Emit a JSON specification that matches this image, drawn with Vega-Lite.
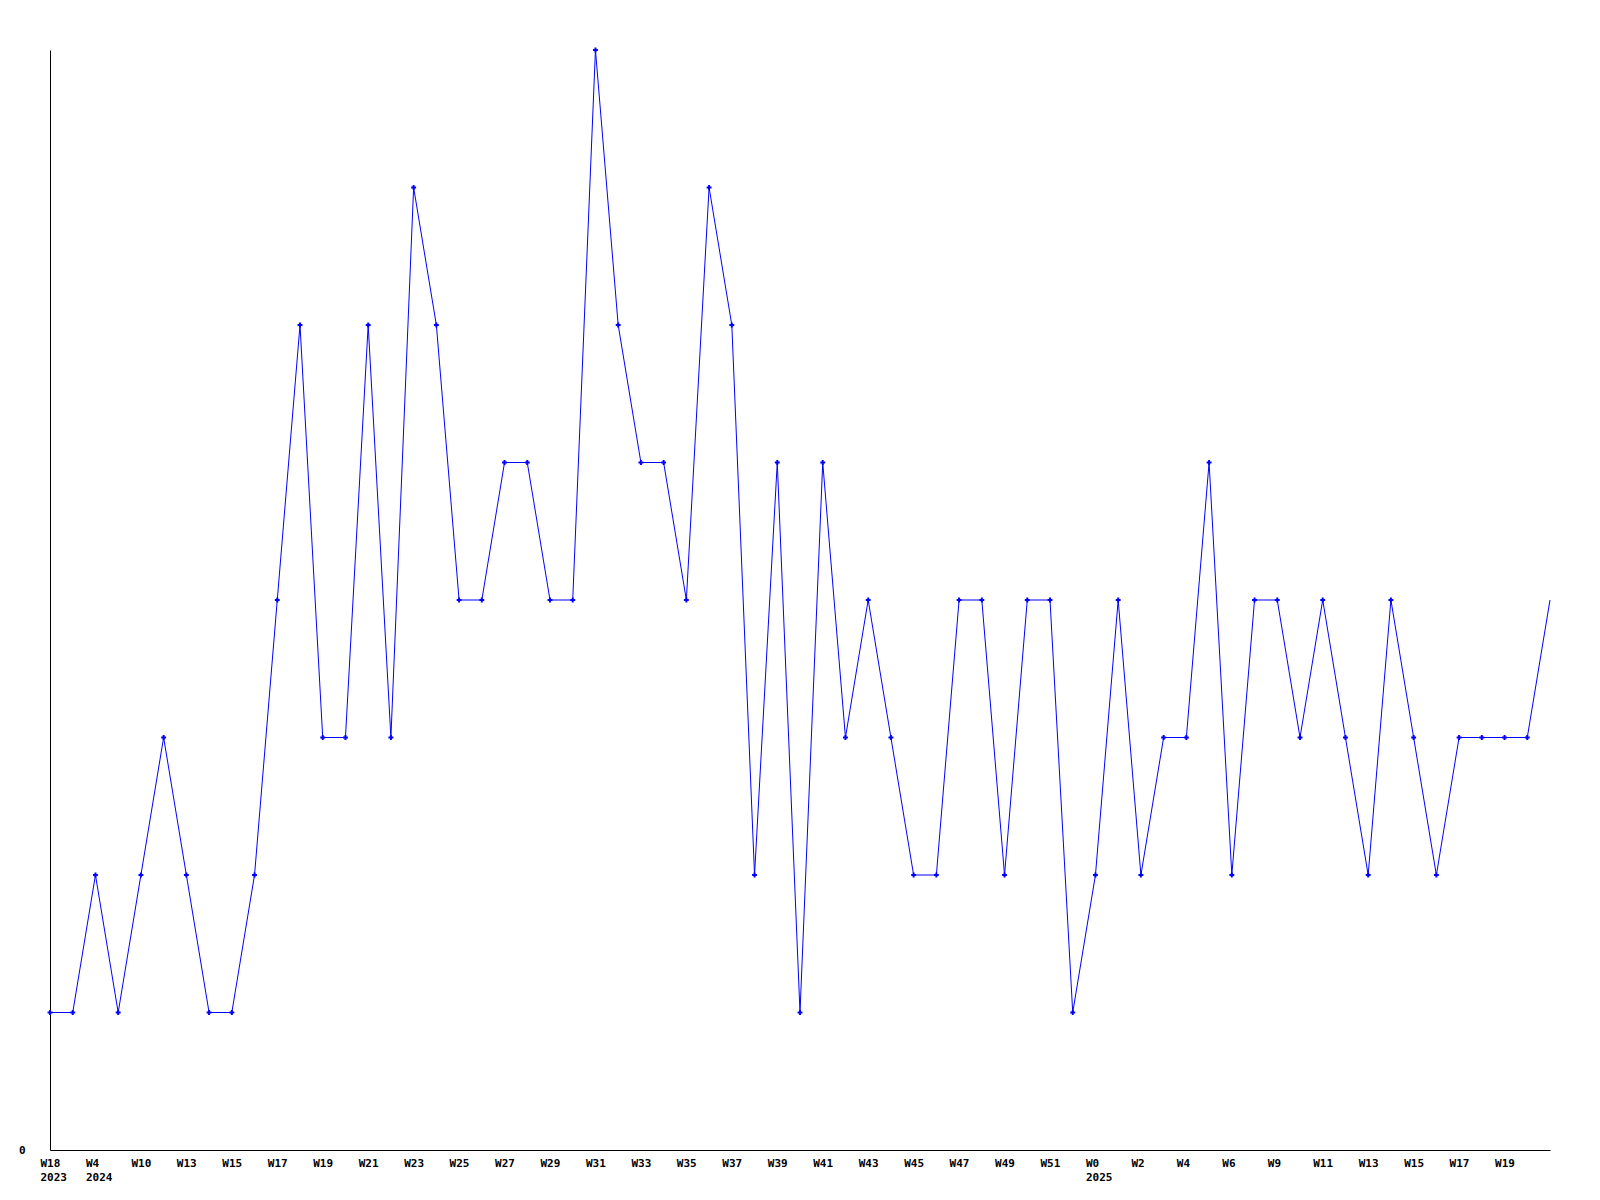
{
  "$schema": "https://vega.github.io/schema/vega-lite/v6.json",
  "width": 1500,
  "height": 1100,
  "autosize": {"type": "none"},
  "padding": {"left": 50, "top": 50, "right": 50, "bottom": 50},
  "background": "white",
  "config": {
    "view": {"stroke": null},
    "axis": {
      "labelFont": "DejaVu Sans Mono",
      "labelFontWeight": "bold",
      "labelFontSize": 11,
      "labelColor": "black",
      "domainColor": "black",
      "domainWidth": 1,
      "grid": false,
      "ticks": false,
      "title": null
    }
  },
  "data": {
    "values": [
      {"i": 0, "v": 1}, {"i": 1, "v": 1}, {"i": 2, "v": 2}, {"i": 3, "v": 1},
      {"i": 4, "v": 2}, {"i": 5, "v": 3}, {"i": 6, "v": 2}, {"i": 7, "v": 1},
      {"i": 8, "v": 1}, {"i": 9, "v": 2}, {"i": 10, "v": 4}, {"i": 11, "v": 6},
      {"i": 12, "v": 3}, {"i": 13, "v": 3}, {"i": 14, "v": 6}, {"i": 15, "v": 3},
      {"i": 16, "v": 7}, {"i": 17, "v": 6}, {"i": 18, "v": 4}, {"i": 19, "v": 4},
      {"i": 20, "v": 5}, {"i": 21, "v": 5}, {"i": 22, "v": 4}, {"i": 23, "v": 4},
      {"i": 24, "v": 8}, {"i": 25, "v": 6}, {"i": 26, "v": 5}, {"i": 27, "v": 5},
      {"i": 28, "v": 4}, {"i": 29, "v": 7}, {"i": 30, "v": 6}, {"i": 31, "v": 2},
      {"i": 32, "v": 5}, {"i": 33, "v": 1}, {"i": 34, "v": 5}, {"i": 35, "v": 3},
      {"i": 36, "v": 4}, {"i": 37, "v": 3}, {"i": 38, "v": 2}, {"i": 39, "v": 2},
      {"i": 40, "v": 4}, {"i": 41, "v": 4}, {"i": 42, "v": 2}, {"i": 43, "v": 4},
      {"i": 44, "v": 4}, {"i": 45, "v": 1}, {"i": 46, "v": 2}, {"i": 47, "v": 4},
      {"i": 48, "v": 2}, {"i": 49, "v": 3}, {"i": 50, "v": 3}, {"i": 51, "v": 5},
      {"i": 52, "v": 2}, {"i": 53, "v": 4}, {"i": 54, "v": 4}, {"i": 55, "v": 3},
      {"i": 56, "v": 4}, {"i": 57, "v": 3}, {"i": 58, "v": 2}, {"i": 59, "v": 4},
      {"i": 60, "v": 3}, {"i": 61, "v": 2}, {"i": 62, "v": 3}, {"i": 63, "v": 3},
      {"i": 64, "v": 3}, {"i": 65, "v": 3}, {"i": 66, "v": 4}
    ]
  },
  "encoding": {
    "x": {
      "field": "i",
      "type": "quantitative",
      "scale": {"domain": [0, 66], "nice": false, "zero": false},
      "axis": {
        "values": [0, 2, 4, 6, 8, 10, 12, 14, 16, 18, 20, 22, 24, 26, 28, 30, 32, 34, 36, 38, 40, 42, 44, 46, 48, 50, 52, 54, 56, 58, 60, 62, 64],
        "labelExpr": "[['W18','2023'],['W4','2024'],'W10','W13','W15','W17','W19','W21','W23','W25','W27','W29','W31','W33','W35','W37','W39','W41','W43','W45','W47','W49','W51',['W0','2025'],'W2','W4','W6','W9','W11','W13','W15','W17','W19'][datum.value/2]",
        "labelAlign": "left",
        "labelBaseline": "top",
        "labelOffset": -10,
        "labelPadding": 7,
        "labelLineHeight": 14,
        "labelOverlap": false,
        "labelFlush": false
      }
    },
    "y": {
      "field": "v",
      "type": "quantitative",
      "scale": {"domain": [0, 8], "nice": false},
      "axis": {"values": [0], "labelPadding": 25, "labelBaseline": "middle"}
    }
  },
  "layer": [
    {"mark": {"type": "line", "color": "#0000ff", "strokeWidth": 1}},
    {
      "transform": [{"filter": "datum.i < 66"}],
      "mark": {"type": "point", "shape": "cross", "filled": true, "color": "#0000ff", "size": 24, "opacity": 1}
    }
  ]
}
